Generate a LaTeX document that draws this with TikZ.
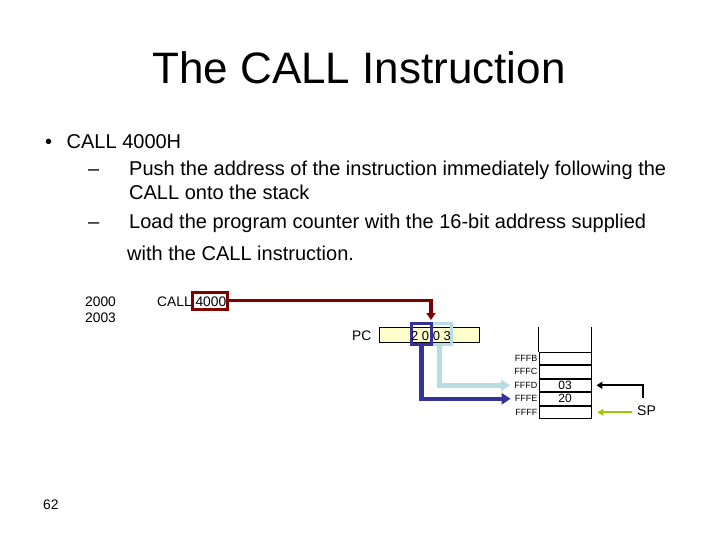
\documentclass[tikz,border=0pt]{standalone}
\usepackage{fontspec}
\setmainfont{Liberation Sans}
\usetikzlibrary{arrows.meta}
\definecolor{dred}{HTML}{800000}
\definecolor{dblue}{HTML}{333399}
\definecolor{lblue}{HTML}{B7DDE2}
\definecolor{pcyellow}{HTML}{FFFFCC}
\definecolor{sgreen}{HTML}{99CC00}
\begin{document}
\begin{tikzpicture}[x=1pt,y=-1pt,
  titletxt/.style={inner sep=0pt,anchor=base,font=\fontsize{44}{52}\selectfont},
  body/.style={inner sep=0pt,anchor=base west,font=\fontsize{20}{24}\selectfont},
  small/.style={inner sep=0pt,anchor=base west,font=\fontsize{13.8}{16}\selectfont},
  addr/.style={inner sep=1pt,anchor=east,font=\fontsize{9}{10}\selectfont},
  cell/.style={draw,line width=0.9pt,minimum width=52pt,minimum height=12.6pt,inner sep=0pt,font=\fontsize{12}{13}\selectfont},
  redbox/.style={draw=dred,line width=3pt,minimum width=35pt,minimum height=17pt,inner sep=0pt},
  dbbox/.style={draw=dblue,line width=3pt,minimum width=20pt,minimum height=21pt,inner sep=0pt},
  lbbox/.style={draw=lblue,line width=3pt,minimum width=20pt,minimum height=21pt,inner sep=0pt},
  pcbox/.style={draw,fill=pcyellow,line width=0.8pt,minimum width=100pt,minimum height=15pt,inner sep=0pt},
  redline/.style={draw=dred,line width=3.5pt,-{Triangle[length=7pt,width=9pt]}},
  dbline/.style={draw=dblue,line width=4.5pt,-{Triangle[length=9pt,width=11pt]},shorten >=3pt},
  lbline/.style={draw=lblue,line width=4.5pt,-{Triangle[length=9pt,width=11pt]},shorten >=3pt},
  blkline/.style={draw=black,line width=2pt,-{Triangle[length=6pt,width=7pt]},shorten >=5pt},
  grnline/.style={draw=sgreen,line width=2pt,-{Triangle[length=6pt,width=7pt]},shorten >=6pt,shorten <=5pt}
]
\useasboundingbox[fill=white] (0,0) rectangle (720,540);

% title
\node[titletxt] (title) at (359,84) {The CALL Instruction};

% bullet text
\node[body] (bul) at (45,149) {•};
\node[body] (b1) at (66.5,149) {CALL 4000H};
\node[body] (d1) at (88,176) {–};
\node[body] (l1) at (129,176) {Push the address of the instruction immediately following the};
\node[body] (l1b) at (129,200) {CALL onto the stack};
\node[body] (d2) at (88,229) {–};
\node[body] (l2) at (129,229) {Load the program counter with the 16-bit address supplied};
\node[body] (l2b) at (127,260) {with the CALL instruction.};

% program listing
\node[small] (a2000) at (85,306) {2000};
\node[small] (a2003) at (85,322) {2003};
\node[small] (call) at (157,306) {CALL 4000};
\node[redbox] (rb) at (209.5,300.5) {};

% PC
\node[small,anchor=base east] (pclbl) at (371.5,340) {PC};
\node[pcbox] (pc) at (429,334.5) {};
\node[lbbox] (lb) at (441.5,333.5) {};
\node[dbbox] (db) at (421.5,333.5) {};
\node[inner sep=0pt,anchor=base,font=\fontsize{13}{15}\selectfont] (pcval) at (431,340) {2 0 0 3};
\coordinate (pcin) at (431,320);
\draw[redline] (rb.east) -| (pcin);

% stack
\node[cell] (r1) at (565,358.3) {};
\node[cell,anchor=north] (r2) at (r1.south) {};
\node[cell,anchor=north] (r3) at (r2.south) {03};
\node[cell,anchor=north] (r4) at (r3.south) {20};
\node[cell,anchor=north] (r5) at (r4.south) {};
\draw[line width=0.9pt] (r1.north west) -- ++(0,-25);
\draw[line width=0.9pt] (r1.north east) -- ++(0,-25);
\node[addr] (fffb) at (r1.west) {FFFB};
\node[addr] (fffc) at (r2.west) {FFFC};
\node[addr] (fffd) at (r3.west) {FFFD};
\node[addr] (fffe) at (r4.west) {FFFE};
\node[addr] (ffff) at (r5.west) {FFFF};

% PC to stack
\draw[lbline] ([xshift=-2pt]lb.south) |- (fffd.west);
\draw[dbline] (db.south) |- (fffe.west);

% SP
\node[inner sep=0pt,anchor=base west,font=\fontsize{14}{16}\selectfont] (sp) at (637,415) {SP};
\coordinate (spk) at (643,398);
\draw[blkline] (spk) |- (r3.east);
\draw[grnline] (r5.east -| sp.west) -- (r5.east);

% page number
\node[small] (pg) at (43,509) {62};
\end{tikzpicture}
\end{document}
